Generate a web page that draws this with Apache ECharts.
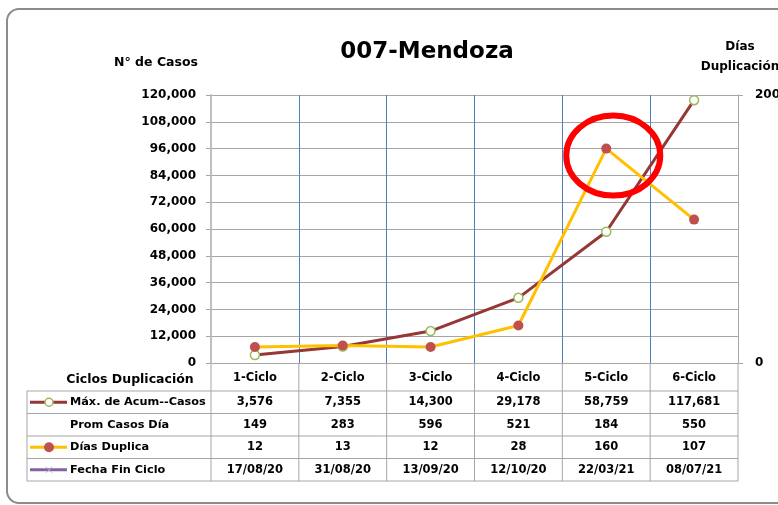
<!DOCTYPE html>
<html>
<head>
<meta charset="utf-8">
<script src="https://cdn.jsdelivr.net/npm/echarts@6/dist/echarts.min.js"></script>
<style>
  html, body { margin: 0; padding: 0; background: #fff; }
  #chart { width: 778px; height: 505px; }
</style>
</head>
<body>
<div id="chart"></div>
<script>
// datos del gráfico
const ciclos = ['1-Ciclo', '2-Ciclo', '3-Ciclo', '4-Ciclo', '5-Ciclo', '6-Ciclo'];
const maxAcumCasos = [3576, 7355, 14300, 29178, 58759, 117681];
const promCasosDia = [149, 283, 596, 521, 184, 550];
const diasDuplica = [12, 13, 12, 28, 160, 107];
const fechaFinCiclo = ['17/08/20', '31/08/20', '13/09/20', '12/10/20', '22/03/21', '08/07/21'];
const rowLabels = ['Máx. de Acum--Casos', 'Prom Casos Día', 'Días Duplica', 'Fecha Fin Ciclo'];
const casosMin = 0, casosMax = 120000, casosStep = 12000;
const diasMin = 0, diasMax = 200, diasStep = 200;

const FONT = '"DejaVu Sans", Lato, sans-serif';
const C_MAX = '#953735';
const C_DIAS = '#FFC000';
const C_DOT = '#C0504D';
const C_FECHA = '#8064A2';
const C_GRID = '#A6A6A6';

const fmt = v => String(v).replace(/\B(?=(\d{3})+(?!\d))/g, ',');

const chart = echarts.init(document.getElementById('chart'));

const boldLabel = size => ({ fontFamily: FONT, fontWeight: 'bold', fontSize: size, color: '#000' });

const option = {
  animation: false,
  textStyle: { fontFamily: FONT },
  title: {
    text: '007-Mendoza',
    left: 422,
    top: 36,
    textAlign: 'center',
    textStyle: { fontFamily: FONT, fontSize: 23, fontWeight: 'bold', color: '#000' }
  },
  grid: { left: 211, right: 40, top: 95, bottom: 142, containLabel: false, outerBoundsMode: 'none' },
  xAxis: {
    type: 'category',
    data: ciclos,
    boundaryGap: true,
    axisLine: { show: false },
    axisTick: { show: false },
    splitLine: { show: true, lineStyle: { color: '#4F81BD', width: 1 } },
    axisLabel: Object.assign({ margin: 9 }, boldLabel(11.5))
  },
  yAxis: [
    {
      type: 'value',
      min: casosMin,
      max: casosMax,
      interval: casosStep,
      axisLine: { show: true, lineStyle: { color: '#BFBFBF', width: 2 } },
      axisTick: { show: true, length: 5, lineStyle: { color: C_GRID } },
      splitLine: { show: true, lineStyle: { color: C_GRID, width: 1 } },
      axisLabel: Object.assign({ margin: 15, formatter: v => fmt(v) }, boldLabel(12))
    },
    {
      type: 'value',
      position: 'right',
      min: diasMin,
      max: diasMax,
      interval: diasStep,
      axisLine: { show: true, lineStyle: { color: C_GRID, width: 1 } },
      axisTick: { show: true, length: 5, lineStyle: { color: C_GRID } },
      splitLine: { show: false },
      axisLabel: Object.assign({ margin: 17 }, boldLabel(12))
    }
  ],
  series: [
    {
      name: 'Máx. de Acum--Casos',
      type: 'line',
      yAxisIndex: 0,
      data: maxAcumCasos,
      symbol: 'circle',
      symbolSize: 9,
      lineStyle: { color: C_MAX, width: 3 },
      itemStyle: { color: '#fff', borderColor: '#9BBB59', borderWidth: 1.5 },
      z: 3
    },
    {
      name: 'Días Duplica',
      type: 'line',
      yAxisIndex: 1,
      data: diasDuplica,
      symbol: 'circle',
      symbolSize: 10,
      lineStyle: { color: C_DIAS, width: 3 },
      itemStyle: { color: C_DOT, borderWidth: 0 },
      z: 4
    }
  ]
};

chart.setOption(option);

// tabla de datos debajo del gráfico
const buildGraphic = () => {
  const g = [];
  const plotBottom = 363;
  const tableLeft = 27;
  const rowTop = 391, rowH = 22.5;
  const lineStyle = { stroke: C_GRID, lineWidth: 1 };
  const txt = (size) => ({ font: 'bold ' + size + 'px ' + FONT, fill: '#000' });

  // marco exterior
  g.push({ type: 'rect', shape: { x: 7, y: 9, width: 790, height: 494, r: 12 },
    style: { fill: null, stroke: '#8C8C8C', lineWidth: 2 }, silent: true });

  // títulos de ejes
  g.push({ type: 'text', x: 156, y: 63, style: Object.assign({ text: 'N° de Casos', align: 'center', verticalAlign: 'middle' }, txt(12.5)) });
  g.push({ type: 'text', x: 740, y: 57, style: Object.assign({ text: 'Días\nDuplicación', align: 'center', verticalAlign: 'middle', lineHeight: 20 }, txt(12)) });
  g.push({ type: 'text', x: 130, y: 380, style: Object.assign({ text: 'Ciclos Duplicación', align: 'center', verticalAlign: 'middle' }, txt(12.5)) });

  const centers = ciclos.map(c => chart.convertToPixel({ xAxisIndex: 0 }, c));
  const half = (centers[1] - centers[0]) / 2;
  const bounds = [centers[0] - half].concat(centers.map(x => x + half));
  const tableRight = bounds[bounds.length - 1];

  // líneas horizontales
  for (let r = 0; r <= rowLabels.length; r++) {
    const y = rowTop + r * rowH;
    g.push({ type: 'line', shape: { x1: tableLeft, y1: y, x2: tableRight, y2: y }, style: lineStyle });
  }
  // líneas verticales
  g.push({ type: 'line', shape: { x1: tableLeft, y1: rowTop, x2: tableLeft, y2: rowTop + 4 * rowH }, style: lineStyle });
  bounds.forEach(x => {
    g.push({ type: 'line', shape: { x1: x, y1: plotBottom, x2: x, y2: rowTop + 4 * rowH }, style: lineStyle });
  });

  // celdas
  const rows = [maxAcumCasos.map(fmt), promCasosDia.map(String), diasDuplica.map(String), fechaFinCiclo];
  rows.forEach((vals, r) => {
    const yc = rowTop + r * rowH + rowH / 2;
    g.push({ type: 'text', x: 70, y: yc, style: Object.assign({ text: rowLabels[r], align: 'left', verticalAlign: 'middle' }, txt(11.3)) });
    vals.forEach((v, i) => {
      g.push({ type: 'text', x: centers[i], y: yc, style: Object.assign({ text: v, align: 'center', verticalAlign: 'middle' }, txt(11.5)) });
    });
  });

  // claves de leyenda
  const keyY = r => rowTop + r * rowH + rowH / 2;
  g.push({ type: 'line', shape: { x1: 30, y1: keyY(0), x2: 67, y2: keyY(0) }, style: { stroke: C_MAX, lineWidth: 3 } });
  g.push({ type: 'circle', shape: { cx: 49, cy: keyY(0), r: 4 }, style: { fill: '#fff', stroke: '#9BBB59', lineWidth: 1.5 } });
  g.push({ type: 'line', shape: { x1: 30, y1: keyY(2), x2: 67, y2: keyY(2) }, style: { stroke: C_DIAS, lineWidth: 3 } });
  g.push({ type: 'circle', shape: { cx: 49, cy: keyY(2), r: 5 }, style: { fill: C_DOT } });
  g.push({ type: 'line', shape: { x1: 30, y1: keyY(3), x2: 67, y2: keyY(3) }, style: { stroke: C_FECHA, lineWidth: 3 } });
  g.push({ type: 'line', shape: { x1: 46, y1: keyY(3) - 3, x2: 52, y2: keyY(3) + 3 }, style: { stroke: '#B3A2C7', lineWidth: 1 } });
  g.push({ type: 'line', shape: { x1: 46, y1: keyY(3) + 3, x2: 52, y2: keyY(3) - 3 }, style: { stroke: '#B3A2C7', lineWidth: 1 } });

  // círculo rojo que resalta el ciclo 5
  const p = chart.convertToPixel({ xAxisIndex: 0, yAxisIndex: 1 }, [ciclos[4], diasDuplica[4]]);
  g.push({ type: 'ellipse', shape: { cx: p[0] + 7, cy: p[1] + 7, rx: 47, ry: 40 },
    style: { fill: null, stroke: '#FF0000', lineWidth: 6 }, z: 10 });

  return g;
};

chart.setOption({ graphic: buildGraphic() });
</script>
</body>
</html>
